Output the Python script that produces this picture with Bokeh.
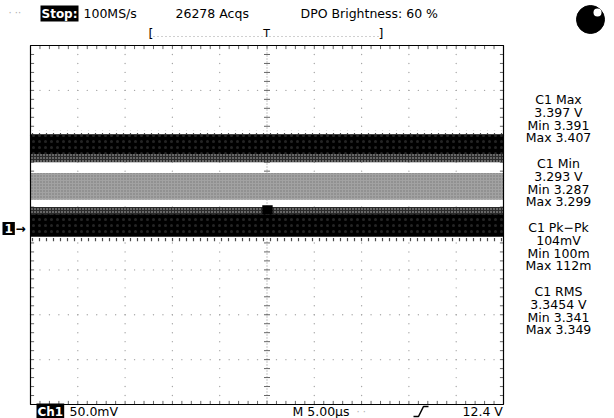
from bokeh.plotting import figure
from bokeh.models import Range1d, Label
from bokeh.embed import file_html
from bokeh.resources import INLINE
import numpy as np

# ---- canvas and graticule placement (pixels) ----
W, H = 614, 418
GX0, GX1 = 30, 503      # graticule left / right
GY0, GY1 = 45, 404      # graticule top / bottom

# ---- scope settings ----
time_per_div = 5.0       # µs / div
volts_per_div = 0.050    # V / div
center_volts = 3.30      # channel offset (screen centre)
n_hdiv, n_vdiv = 10, 8

# ---- persistence bands of the CH1 trace (volts) ----
band_top = [3.401, 3.358, 3.319]
band_bottom = [3.373, 3.328, 3.287]
band_fill = ["black", "#a2a2a2", "black"]
# speckled inner edges of the dark bands (volts)
speckle_top = [3.379, 3.320]
speckle_bottom = [3.370, 3.312]
# noise fringe beyond the outer edges (volts)
fringe_top = [3.405, 3.287]
fringe_bottom = [3.401, 3.282]
# trigger-point bump on the lower band (µs, volts)
bump_t = [-0.5, 0.6]
bump_v = [3.312, 3.322]

# ---- measurement readouts ----
meas_titles = ["C1 Max", "C1 Min", "C1 Pk\u2212Pk", "C1 RMS"]
meas_values = ["3.397 V", "3.293 V", "104mV", "3.3454 V"]
meas_min = ["Min 3.391", "Min 3.287", "Min 100m", "Min 3.341"]
meas_max = ["Max 3.407", "Max 3.299", "Max 112m", "Max 3.349"]

# ---- status texts ----
run_state = "Stop:"
sample_rate = "100MS/s"
acquisitions = "26278 Acqs"
brightness = "DPO Brightness: 60 %"
ch_label = "Ch1"
ch_scale = "50.0mV"
time_scale = "M 5.00\u00b5s"
trig_level = "12.4 V"

# ---- ranges: graticule spans +-5 div in time, +-4 div in volts ----
t_left, t_right = -time_per_div * n_hdiv / 2, time_per_div * n_hdiv / 2
v_bot = center_volts - volts_per_div * n_vdiv / 2
v_top = center_volts + volts_per_div * n_vdiv / 2
kx = (GX1 - GX0) / (t_right - t_left)
ky = (GY1 - GY0) / (v_top - v_bot)
x_start = t_left - GX0 / kx
x_end = t_right + (W - GX1) / kx
y_top = v_top + GY0 / ky
y_bottom = v_bot - (H - GY1) / ky


def fx(px):
    return x_start + px / kx


def fy(py):
    return y_top - py / ky


FONT = "DejaVu Sans"
FS = "12.5px"

p = figure(width=W, height=H, x_range=Range1d(x_start, x_end),
           y_range=Range1d(y_bottom, y_top), output_backend="svg",
           toolbar_location=None, min_border=0, x_axis_type=None,
           y_axis_type=None, outline_line_color=None,
           background_fill_color="white", border_fill_color="white")

# ---- graticule dots on every division line ----
sub_t = np.arange(t_left, t_right + 1e-9, time_per_div / 5)
sub_v = np.arange(v_bot, v_top + 1e-9, volts_per_div / 5)
div_t = np.arange(t_left + time_per_div, t_right - 1e-9, time_per_div)
div_v = np.arange(v_bot + volts_per_div, v_top - 1e-9, volts_per_div)
gx, gy = [], []
for t in div_t:
    if abs(t) > 1e-9:
        gx += [t] * len(sub_v)
        gy += list(sub_v)
for v in div_v:
    if abs(v - center_volts) > 1e-9:
        gx += list(sub_t)
        gy += [v] * len(sub_t)
p.scatter(gx, gy, size=1.4, color="#a8a8a8", line_color=None)

# ---- centre cross (dotted) ----
p.segment(x0=[0, t_left], y0=[v_bot, center_volts], x1=[0, t_right],
          y1=[v_top, center_volts], line_color="#8a8a8a", line_width=1,
          line_dash="1 2")

# ---- tick marks on centre lines and frame edges ----
tl = 3 / kx   # 3 px in time units
vl = 3 / ky   # 3 px in volt units
x0s, y0s, x1s, y1s = [], [], [], []
for t in sub_t:
    x0s += [t, t, t]
    y0s += [center_volts - vl, v_top, v_bot]
    x1s += [t, t, t]
    y1s += [center_volts + vl, v_top - 1.2 * vl, v_bot + 1.2 * vl]
for v in sub_v:
    x0s += [-tl, t_left, t_right]
    y0s += [v, v, v]
    x1s += [tl, t_left + 1.2 * tl, t_right - 1.2 * tl]
    y1s += [v, v, v]
p.segment(x0=x0s, y0=y0s, x1=x1s, y1=y1s, line_color="#666666",
          line_width=1)

# ---- trace persistence bands ----
p.quad(left=[t_left] * 2, right=[t_right] * 2, top=fringe_top,
       bottom=fringe_bottom, fill_color=None, line_color=None,
       hatch_pattern="vertical_dash", hatch_color="black", hatch_scale=7,
       hatch_weight=1.2, hatch_alpha=0.7)
p.quad(left=[t_left] * 3, right=[t_right] * 3, top=band_top,
       bottom=band_bottom, fill_color=band_fill, line_color=None)
p.quad(left=[t_left] * 3, right=[t_right] * 3, top=band_top,
       bottom=band_bottom, fill_color=None, line_color=None,
       hatch_pattern=["dot", "dot", "dot"],
       hatch_color=["#3c3c3c", "#5a5a5a", "#3c3c3c"],
       hatch_scale=[6, 3, 6], hatch_alpha=0.6, hatch_weight=1)
p.quad(left=[t_left] * 2, right=[t_right] * 2, top=speckle_top,
       bottom=speckle_bottom, fill_color="#2a2a2a", line_color=None,
       hatch_pattern="dot", hatch_color="white", hatch_scale=3,
       hatch_alpha=0.7)
p.quad(left=[bump_t[0]], right=[bump_t[1]], top=[bump_v[1]],
       bottom=[bump_v[0]], fill_color="black", line_color=None)

# ---- graticule frame ----
p.quad(left=[t_left], right=[t_right], top=[v_top], bottom=[v_bot],
       fill_color=None, line_color="black", line_width=1.2)


def label(px, py, text, size=FS, color="black", align="left",
          bg=None, style="normal", pad=1):
    lb = Label(x=fx(px), y=fy(py), text=text, text_font=FONT,
               text_font_size=size, text_color=color, text_align=align,
               text_baseline="middle", text_font_style=style)
    if bg is not None:
        lb.background_fill_color = bg
        lb.padding = pad
    p.add_layout(lb)


# ---- status line ----
label(8, 12, "\u00b7 \u00b7\u00b7", size="10px", color="#b0b0b0")
label(40, 13, run_state, size="12px", color="white", bg="black",
      style="bold")
label(83, 13, sample_rate)
label(175, 13, acquisitions)
label(300, 13, brightness)

# record view bracket
p.segment(x0=[fx(153)], y0=[fy(36)], x1=[fx(380)], y1=[fy(36)],
          line_color="#a0a0a0", line_dash="1 3")
label(148, 33, "[")
label(266, 33, "T", size="11px", align="center")
label(378, 33, "]")

# status indicator
p.scatter([fx(590)], [fy(19)], size=28, color="black")
p.scatter([fx(597)], [fy(12)], size=8, color="white", line_color=None)

# ---- channel reference marker ----
label(2, 228, "1", size="12px", color="white", bg="black", style="bold",
      pad=2)
label(15, 228, "\u2192", size="12px", style="bold")

# ---- measurement readouts ----
for i in range(4):
    base = 99 + i * 64
    for j, txt in enumerate([meas_titles[i], meas_values[i], meas_min[i],
                             meas_max[i]]):
        label(558, base + j * 12.8, txt, align="center")

# ---- bottom line ----
label(36, 411, ch_label, size="12px", color="white", bg="black",
      style="bold")
label(69, 411, ch_scale)
label(292, 411, time_scale)
label(356, 411, "\u00b7 \u00b7", size="10px", color="#b0b0b0")
p.line(x=[fx(413), fx(418), fx(423), fx(428)],
       y=[fy(416), fy(416), fy(406), fy(406)], line_color="black",
       line_width=1.5)
label(462, 411, trig_level)

open("out.html", "w").write(file_html(p, INLINE))
